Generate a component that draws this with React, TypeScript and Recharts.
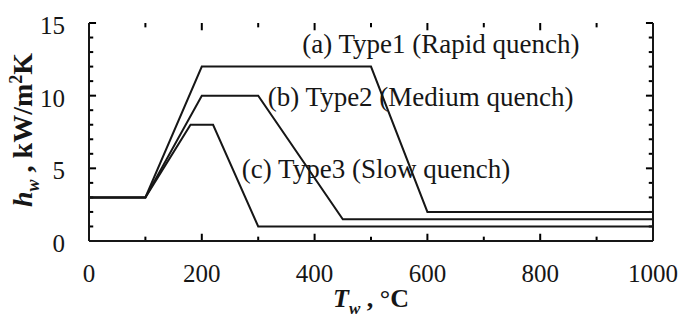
import { LineChart, Line, XAxis, YAxis, ReferenceDot } from "recharts";

const tempTicks = [0, 100, 200, 300, 400, 500, 600, 700, 800, 900, 1000];
const htcTicks = [0, 1, 2, 3, 4, 5, 6, 7, 8, 9, 10, 11, 12, 13, 14, 15];

// wall temperature (°C) and heat transfer coefficient (kW/m2K) break points
const type1T = [0, 100, 200, 500, 600, 1000];
const type1H = [3, 3, 12, 12, 2, 2];
const type2T = [0, 100, 200, 300, 450, 1000];
const type2H = [3, 3, 10, 10, 1.5, 1.5];
const type3T = [0, 100, 180, 220, 300, 1000];
const type3H = [3, 3, 8, 8, 1, 1];

const noteText = ["(a) Type1 (Rapid quench)", "(b) Type2 (Medium quench)", "(c) Type3 (Slow quench)"];
const noteT = [378, 317, 271];
const noteH = [12.94, 9.29, 4.34];

const toPoints = (ts: number[], hs: number[]) => ts.map((T, i) => ({ T, h: hs[i] }));
const series = [toPoints(type1T, type1H), toPoints(type2T, type2H), toPoints(type3T, type3H)];

const ink = "#161616";
const font = "'Liberation Serif', 'Times New Roman', serif";

const isMajorT = (v: number) => v % 200 === 0;
const isMajorH = (v: number) => v % 5 === 0;

// inward tick lengths in data units (about 7px major / 4px minor)
const tickLenH = { major: 0.5, minor: 0.3 };
const tickLenT = { major: 12.5, minor: 7.5 };

// each frame tick drawn as a tiny two-point line through the chart scales
const tickMarks = [
  ...tempTicks.flatMap((v) => {
    const len = isMajorT(v) ? tickLenH.major : tickLenH.minor;
    return [
      [{ T: v, h: 0 }, { T: v, h: len }],
      [{ T: v, h: 15 }, { T: v, h: 15 - len }],
    ];
  }),
  ...htcTicks.flatMap((v) => {
    const len = isMajorH(v) ? tickLenT.major : tickLenT.minor;
    return [
      [{ T: 0, h: v }, { T: len, h: v }],
      [{ T: 1000, h: v }, { T: 1000 - len, h: v }],
    ];
  }),
];

function BottomTick(props: any) {
  const v = props.payload.value;
  if (!isMajorT(v)) return <g />;
  return (
    <text x={props.x} y={Number(props.y) + 41} textAnchor="middle" fontSize={25} fontFamily={font} fill={ink}>
      {v}
    </text>
  );
}

function LeftTick(props: any) {
  const v = props.payload.value;
  if (!isMajorH(v)) return <g />;
  return (
    <text x={Number(props.x) - 24} y={Number(props.y) + 11} textAnchor="end" fontSize={25} fontFamily={font} fill={ink}>
      {v}
    </text>
  );
}

const NoLabel = () => <g />;

function XTitle(props: any) {
  const vb = props.viewBox || { x: 89, y: 241, width: 564, height: 79 };
  return (
    <text x={vb.x + vb.width / 2} y={vb.y + 66} textAnchor="middle" fontSize={26} fontWeight="bold" fontFamily={font} fill={ink}>
      <tspan fontStyle="italic">T</tspan>
      <tspan fontStyle="italic" fontSize={17} dy={7}>w</tspan>
      <tspan dy={-7}> , °C</tspan>
    </text>
  );
}

function YTitle(props: any) {
  const vb = props.viewBox || { x: 0, y: 23, width: 89, height: 218 };
  const cx = 32;
  const cy = vb.y + vb.height / 2 - 2;
  return (
    <text x={cx} y={cy} transform={`rotate(-90 ${cx} ${cy})`} textAnchor="middle" fontSize={28} fontWeight="bold" fontFamily={font} fill={ink}>
      <tspan fontStyle="italic">h</tspan>
      <tspan fontStyle="italic" fontSize={18} dy={7}>w</tspan>
      <tspan dy={-7}> , kW/m</tspan>
      <tspan fontSize={18} dy={-10}>2</tspan>
      <tspan dy={10}>K</tspan>
    </text>
  );
}

const noteLabel = (text: string) => (props: any) => {
  const vb = props.viewBox;
  return (
    <text x={vb.x} y={vb.y} textAnchor="start" fontSize={27} fontFamily={font} fill={ink}>
      {text}
    </text>
  );
};

export default function App() {
  return (
    <div style={{ position: "absolute", left: 0, top: 0, width: 684, height: 320, background: "#fff" }}>
      <LineChart width={684} height={320} margin={{ top: 23, right: 0, bottom: 0, left: 0 }}>
        <XAxis
          xAxisId={0}
          dataKey="T"
          type="number"
          domain={[0, 1000]}
          ticks={tempTicks}
          interval={0}
          height={79}
          tickSize={0}
          tickMargin={0}
          tick={BottomTick}
          axisLine={{ stroke: ink, strokeWidth: 2 }}
          tickLine={false}
          label={XTitle}
        />
        <XAxis
          xAxisId="top"
          orientation="top"
          type="number"
          domain={[0, 1000]}
          ticks={tempTicks}
          interval={0}
          height={0}
          tickSize={0}
          tickMargin={0}
          tick={NoLabel}
          axisLine={{ stroke: ink, strokeWidth: 2 }}
          tickLine={false}
        />
        <YAxis
          yAxisId={0}
          type="number"
          domain={[0, 15]}
          ticks={htcTicks}
          interval={0}
          width={89}
          tickSize={0}
          tickMargin={0}
          tick={LeftTick}
          axisLine={{ stroke: ink, strokeWidth: 2 }}
          tickLine={false}
          label={YTitle}
        />
        <YAxis
          yAxisId="right"
          orientation="right"
          type="number"
          domain={[0, 15]}
          ticks={htcTicks}
          interval={0}
          width={31}
          tickSize={0}
          tickMargin={0}
          tick={NoLabel}
          axisLine={{ stroke: ink, strokeWidth: 2 }}
          tickLine={false}
        />
        {tickMarks.map((pts, i) => (
          <Line
            key={`tick${i}`}
            data={pts}
            dataKey="h"
            type="linear"
            stroke="#000"
            strokeWidth={2}
            dot={false}
            activeDot={false}
            legendType="none"
            isAnimationActive={false}
          />
        ))}
        {series.map((pts, i) => (
          <Line
            key={i}
            data={pts}
            dataKey="h"
            type="linear"
            stroke={ink}
            strokeWidth={2}
            dot={false}
            activeDot={false}
            isAnimationActive={false}
          />
        ))}
        {noteText.map((t, i) => (
          <ReferenceDot key={t} x={noteT[i]} y={noteH[i]} r={0} fill="none" stroke="none" label={noteLabel(t)} />
        ))}
      </LineChart>
    </div>
  );
}
